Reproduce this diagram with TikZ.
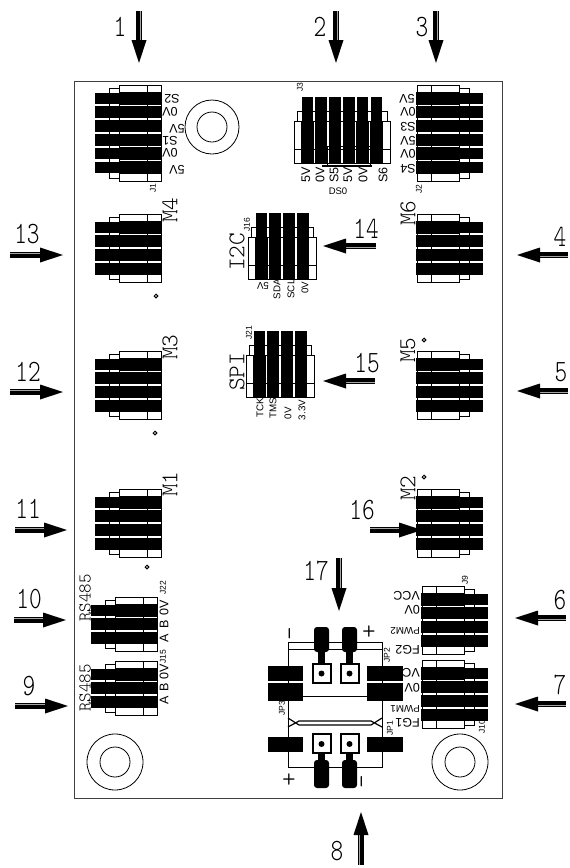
\documentclass[tikz,border=0pt]{standalone}
\usepackage{fontspec}
\setmainfont{Liberation Sans}
\newfontfamily\cadbig[FakeStretch=0.78]{Latin Modern Mono Light}
\newfontfamily\cad{Latin Modern Mono Light}
\usetikzlibrary{calc}
\tikzset{
  board/.style={draw=black!75,line width=0.9pt},
  hbody/.style={draw=black,line width=1pt},
  pinbar/.style={fill=black,draw=none},
  num/.style={font=\cadbig\fontsize{31}{31}\selectfont,inner sep=0pt},
  mlab/.style={font=\cad\fontsize{24}{24}\selectfont,inner sep=0pt,rotate=90},
  rslab/.style={font=\cad\fontsize{18}{18}\selectfont,inner sep=0pt,rotate=90},
  pl/.style={font=\fontsize{12.5}{12.5}\selectfont,inner sep=0pt},
  ps/.style={font=\fontsize{9.8}{9.8}\selectfont,inner sep=0pt},
  pr/.style={pl,rotate=90},
  prs/.style={ps,rotate=90},
  pu/.style={pl,rotate=180},
  pue/.style={pu,anchor=west},
  jl/.style={font=\fontsize{8.5}{8.5}\selectfont,inner sep=0pt,rotate=90},
  pad/.style={fill=black,draw=none},
  thin line/.style={draw=black,line width=1pt},
  hole/.style={draw=black,line width=0.8pt},
  dot mark/.style={draw=black,line width=1pt,fill=white},
  shaft/.style={draw=none,fill=black},
  faceL/.style={x={(1pt,0pt)},y={(0pt,-1pt)}},
  faceR/.style={x={(-1pt,0pt)},y={(0pt,-1pt)}},
  faceU/.style={x={(0pt,-1pt)},y={(1pt,0pt)}},
}
% header: #1 facing style, #2 x, #3 y, #4 number of pins
\newcommand{\hdr}[4]{%
  \begin{scope}[shift={(#2,#3)},#1]
    \pgfmathsetmacro{\wid}{#4*13.78+13.4}
    \pgfmathsetmacro{\wmt}{\wid-3}
    \draw[hbody,fill=white] (14,3) rectangle (26,\wmt);
    \fill[white] (24,0) rectangle (66,\wid);
    \foreach \k in {1,...,#4} {
      \pgfmathsetmacro{\va}{7.6+(\k-1)*13.78}
      \pgfmathsetmacro{\vb}{\va+11.7}
      \fill[pinbar] (0,\va) rectangle (25,\vb);
      \pgfmathsetmacro{\vc}{\va-0.3}
      \pgfmathsetmacro{\vd}{\vb+0.3}
      \fill[pinbar] (24,\vc) rectangle (67,\vd);
    }
    \draw[hbody] (24,0) rectangle (66,\wid);
    \draw[hbody] (52,0) -- (52,\wid);
  \end{scope}}
% arrow: name, tail, tip
\newcommand{\arr}[5]{%
  \coordinate (#1t) at (#2,#3);
  \coordinate (#1h) at (#4,#5);
  \coordinate (#1b) at ($(#1h)!23pt!(#1t)$);
  \fill[shaft] ($(#1t)!3pt!90:(#1h)$) -- ($(#1t)!3pt!-90:(#1h)$) -- ($(#1b)!3pt!90:(#1t)$) -- ($(#1b)!3pt!-90:(#1t)$) -- cycle;
  \draw[black!35,line width=0.5pt] ($(#1t)!1.5pt!90:(#1h)$) -- ($(#1b)!1.5pt!-90:(#1t)$);
  \fill[shaft] (#1h) -- ($(#1b)!7.5pt!90:(#1t)$) -- ($(#1b)!7.5pt!-90:(#1t)$) -- cycle;
}
\begin{document}
\begin{tikzpicture}[x=1pt,y=-1pt]
\useasboundingbox (0,0) rectangle (570,868);
\fill[white] (0,0) rectangle (570,868);
\draw[board] (74,81) rectangle (502,798);
% holes
\draw[hole] (212,127) circle (27) (212,127) circle (15);
\draw[hole] (115,762) circle (28) (115,762) circle (15);
\draw[hole] (460,762) circle (28) (460,762) circle (15);
% small marks
\foreach \x/\y in {156/296,155/433,147/567,424/340,424/477}
  \draw[dot mark] (\x,\y) circle (1.8);
% left headers
\hdr{faceL}{95}{85}{6}
\hdr{faceL}{95}{214}{4}
\hdr{faceL}{95}{351}{4}
\hdr{faceL}{95}{489}{4}
\hdr{faceL}{91}{597}{3}
\hdr{faceL}{91}{661}{3}
% right headers
\hdr{faceR}{483}{85}{6}
\hdr{faceR}{483}{214}{4}
\hdr{faceR}{483}{351}{4}
\hdr{faceR}{483}{489}{4}
\hdr{faceR}{488}{586}{4}
\hdr{faceR}{488}{660}{4}
% upward headers
\hdr{faceU}{294}{97}{6}
\hdr{faceU}{248}{213}{4}
\hdr{faceU}{246}{331}{4}
% DS0 box
\draw[draw=black,line width=0.8pt] (327,166) -- (327,146) -- (370,146) -- (370,166);
\draw[draw=black,line width=1.2pt] (322,166) -- (372,166);
% JP block
\draw[thin line] (288,642) rectangle (382,767);
\draw[thin line] (288,649) -- (382,649);
\draw[thin line] (303,696) -- (367,696);
\draw[thin line,line width=1.2pt] (288,718) -- (299,725) -- (371,725) -- (382,718);
\draw[thin line,line width=1.2pt] (288,727) -- (299,721) -- (371,721) -- (382,727);
\foreach \y/\h in {666/15,683/18,737/15} {
  \fill[pad] (268,\y) rectangle ++(35,\h);
  \fill[pad] (367,\y) rectangle ++(36,\h);
}
\foreach \x in {321.5,349.5} {
  \fill[pad,rounded corners=3pt] (\x-7.5,627) rectangle (\x+7.5,652);
  \fill[pad] (\x-3.5,650) rectangle (\x+3.5,664);
  \fill[pad,rounded corners=3pt] (\x-7.5,760) rectangle (\x+7.5,788);
  \fill[pad] (\x-3.5,752) rectangle (\x+3.5,762);
  \draw[black,line width=2pt,fill=white] (\x-9,664) rectangle (\x+9,683);
  \fill (\x,673.5) circle (3);
  \draw[black,line width=2pt,fill=white] (\x-9,734) rectangle (\x+9,753);
  \fill (\x,744) circle (3);
}
% pin labels
\foreach \x/\y/\t [count=\i] in {172/99/S2,170/112/0V,177/129/5V,170/141/S1,170/153/0V,177/170/5V,
   407/99/5V,408/112/0V,408/127/S3,408/141/5V,408/154/0V,408/169/S4}
  \node[pu,name=up\i] at (\x,\y) {\t};
\foreach \x/\y/\t [count=\i] in {306/175/5V,320/175/0V,334/175/S5,348/175/5V,363/175/0V,383/175/S6,
   164/608/0V,164/624/B,164/638/A,164/672/0V,164/687/B,164/700/A}
  \node[pr,name=ri\i] at (\x,\y) {\t};
\foreach \x/\y/\t [count=\i] in {277/289/SDA,291/289/SCL,305/288/0V,
   260/408/TCK,273/408/TMS,288/413/0V,302/410/3.3V}
  \node[prs,name=rs\i] at (\x,\y) {\t};
\node[ps,rotate=180,name=i2cv] at (263,286) {5V};
\foreach \x/\y/\t [count=\i] in {420/596/VCC,420/610/0V,420/650/FG2,
   420/673/VCC,420/688/0V,420/723/FG1}
  \node[pue,name=ue\i] at (\x,\y) {\t};
\node[ps,rotate=180,anchor=west,name=pw2] at (420,631) {PWM2};
\node[ps,rotate=180,anchor=west,name=pw1] at (420,709) {PWM1};
\node[font=\fontsize{9.5}{9.5}\selectfont,inner sep=0pt] (ds0) at (338,191) {DS0};
% ref labels
\foreach \x/\y/\t [count=\i] in {300/87/J3,247/225/J16,249/333/J21,153/188/J1,419/189/J2,163/588/J22,163/657/J15,
   465/580/J9,482/727/J10,387/655/JP2,282/708/JP3,390/728/JP1}
  \node[jl,name=rf\i] at (\x,\y) {\t};
% M labels
\foreach \x/\y/\t [count=\i] in {170/210/M4,170/347/M3,170/484/M1,408/213/M6,408/350/M5,408/488/M2,237/252/I2C,237/372/SPI}
  \node[mlab,name=ml\i] at (\x,\y) {\t};
\node[rslab] (rsa) at (85,598) {RS485};
\node[rslab] (rsb) at (85,688) {RS485};
% polarity
\node[font=\cad\fontsize{26}{26}\selectfont,inner sep=0pt,rotate=90] (sa) at (293,634) {-};
\node[font=\cad\fontsize{26}{26}\selectfont,inner sep=0pt] (sb) at (369,633) {+};
\node[font=\cad\fontsize{26}{26}\selectfont,inner sep=0pt] (sc) at (289,781) {+};
\node[font=\cad\fontsize{26}{26}\selectfont,inner sep=0pt,rotate=90] (sd) at (365,782) {-};
% arrows
\arr{a1}{139}{11}{139}{63}
\arr{a2}{336}{11}{336}{63}
\arr{a3}{436}{11}{436}{63}
\arr{a4}{568}{255}{517}{255}
\arr{a5}{568}{391}{517}{391}
\arr{a6}{566}{618}{515}{618}
\arr{a7}{566}{704}{515}{704}
\arr{a8}{361}{865}{361}{812}
\arr{a9}{15}{706}{68}{706}
\arr{a10}{14}{620}{66}{620}
\arr{a11}{15}{530}{67}{530}
\arr{a12}{10}{392}{63}{392}
\arr{a13}{10}{255}{63}{255}
\arr{a14}{376}{246}{323}{246}
\arr{a15}{375}{381}{323}{381}
\arr{a16}{370}{530}{422}{530}
\arr{a17}{339}{558}{339}{611}
\foreach \x/\y/\t [count=\i] in {120/27/1,320/27/2,422/27/3,560/237/4,561/372/5,560/600/6,560/685/7,337/851/8,29/686/9,
   29/599/10,28/509/11,28/372/12,27/234/13,366/229/14,367/363/15,362/510/16,316/571/17}
  \node[num,name=n\i] at (\x,\y) {\t};
\end{tikzpicture}
\end{document}
